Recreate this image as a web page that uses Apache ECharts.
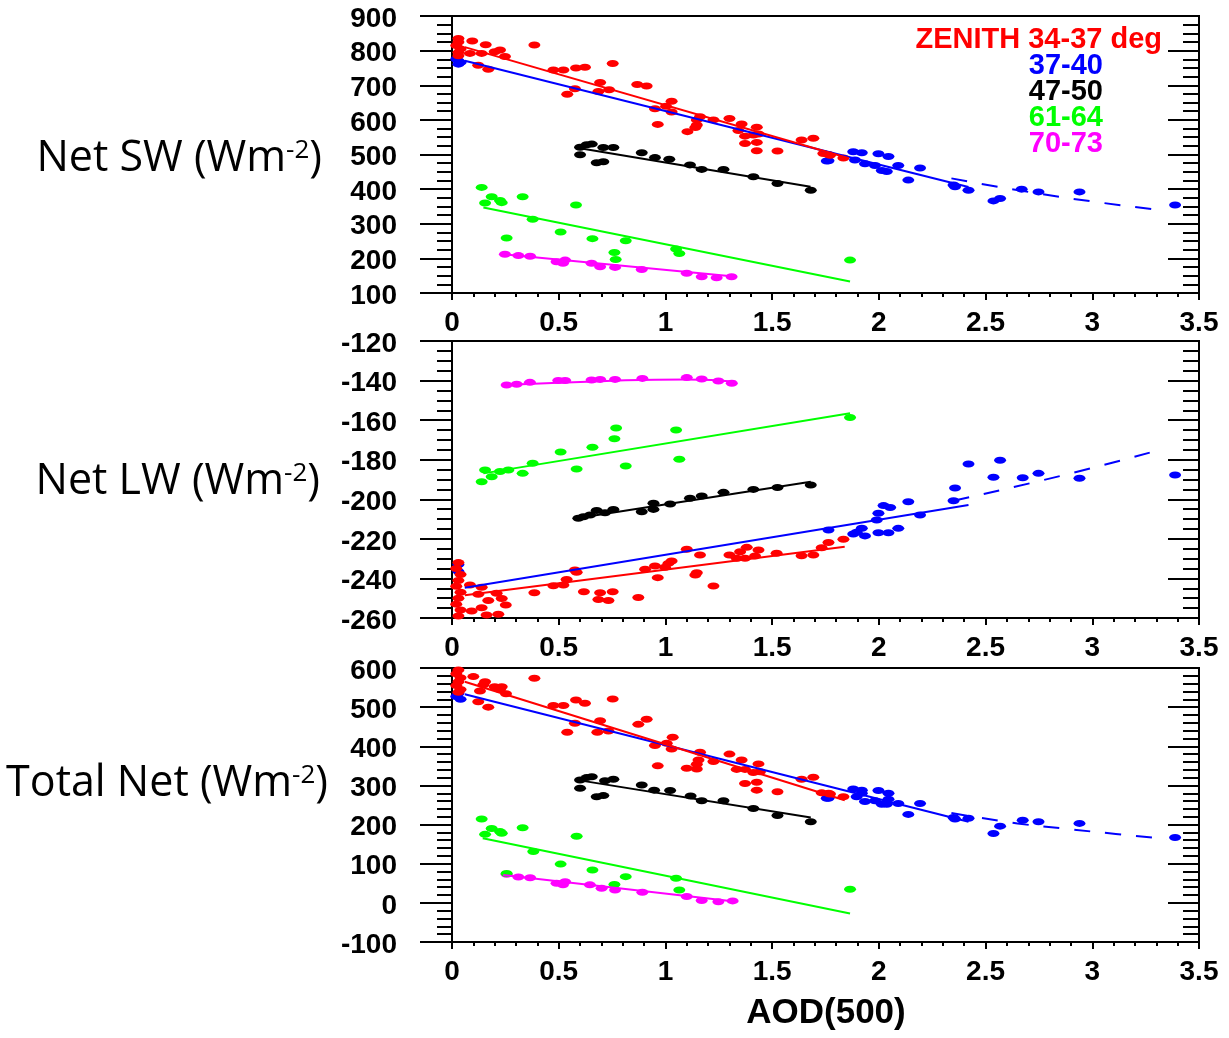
<!DOCTYPE html>
<html>
<head>
<meta charset="utf-8">
<script src="https://cdn.jsdelivr.net/npm/echarts@6/dist/echarts.min.js"></script>
<style>
html,body{margin:0;padding:0;background:#fff;}
#chart{width:1229px;height:1038px;}
</style>
</head>
<body>
<div id="chart"></div>
<script>
// ---------- axis ranges [min, max, interval] ----------
var xRange = [0, 3.5, 0.5];
var swRange = [100, 900, 100];
var lwRange = [-260, -120, 20];
var totRange = [-100, 600, 100];

// ---------- legend / labels ----------
var zenithLabels = ['ZENITH 34-37 deg', '37-40', '47-50', '61-64', '70-73'];
var panelTitles = ['Net SW (Wm{s|-2})', 'Net LW (Wm{s|-2})', 'Total Net (Wm{s|-2})'];
var xTitle = 'AOD(500)';

// ---------- Panel 1: Net SW ----------
var swRed = [[0.03,835],[0.03,825],[0.02,815],[0.04,805],[0.03,795],[0.03,785],
[0.095,828],[0.158,817],[0.386,816],[0.139,792],[0.084,792],[0.2,797],[0.225,802],[0.248,783],
[0.123,758],[0.17,746],[0.475,744],[0.522,744],[0.581,750],[0.623,752],[0.753,763],
[0.694,708],[0.576,690],[0.54,674],[0.686,682],[0.736,687],[0.868,702],[0.912,698],
[1.029,654],[1.003,639],[0.951,632],[1.029,623],[0.964,587],
[1.162,609],[1.147,600],[1.147,585],[1.14,578],[1.103,566],[1.225,600],[1.3,604],
[1.357,588],[1.342,569],[1.373,553],[1.412,556],[1.436,559],[1.428,579],[1.373,532],[1.428,535],
[1.428,511],[1.525,510],[1.638,542],[1.693,547],[1.74,503],[1.764,500],[1.771,498],[1.834,490]];
var swBlue = [[0.02,776],[0.03,771],[0.04,766],[0.03,761],
[1.756,481],[1.764,482],[1.88,508],[1.92,505],[1.888,484],[1.935,473],[1.998,502],[2.045,494],
[1.982,468],[2.014,454],[2.037,451],[2.091,468],[2.193,461],[2.138,426],[2.35,412],[2.357,407],
[2.42,397],[2.537,366],[2.568,373],[2.669,400],[2.748,392],[2.94,392],[3.388,354]];
var swBlack = [[0.6,521],[0.631,528],[0.655,530],[0.6,499],[0.678,476],[0.709,479],[0.709,520],[0.756,520],
[0.889,505],[0.951,491],[1.018,486],[1.115,470],[1.17,457],[1.272,457],[1.412,436],[1.525,416],[1.681,397]];
var swGreen = [[0.139,405],[0.186,378],[0.155,360],[0.225,367],[0.233,361],[0.331,378],[0.581,354],[0.378,313],
[0.509,276],[0.256,259],[0.658,257],[0.814,251],[0.761,217],[0.767,197],[1.05,227],[1.065,214],[1.865,195]];
var swMagenta = [[0.248,212],[0.311,208],[0.366,206],[0.49,190],[0.53,195],[0.52,186],[0.654,186],[0.694,176],
[0.764,174],[0.889,168],[1.1,157],[1.17,147],[1.24,144],[1.31,147]];
var swRedFit = [[0.06,810],[1.86,489]];
var swBlueFit = [[0.06,771],[2.42,406]];
var swBlueDash = [[2.34,431],[2.72,390],[3.04,361],[3.34,338]];
var swBlackFit = [[0.6,518],[1.68,407]];
var swGreenFit = [[0.147,347],[1.865,133]];
var swMagentaFit = [[0.24,212],[1.334,147]];

// ---------- Panel 2: Net LW ----------
var lwRed = [[0.03,-232],[0.02,-235],[0.04,-238],[0.03,-241],[0.02,-244],[0.04,-247],[0.03,-250],[0.02,-253],[0.04,-256],[0.03,-259],
[0.084,-243.3],[0.139,-244.5],[0.123,-248],[0.17,-251.2],[0.209,-247.5],[0.233,-250.1],[0.252,-253.4],[0.092,-256.5],[0.139,-254.8],[0.162,-258.5],[0.217,-258.1],
[0.386,-247.2],[0.475,-243.7],[0.522,-243.3],[0.537,-240.5],[0.576,-235.7],[0.584,-236.9],[0.618,-246.7],[0.694,-247.2],[0.753,-246.7],[0.686,-250.6],[0.733,-251.2],[0.873,-249.6],
[0.905,-235.4],[0.951,-233.7],[1.014,-232.4],[1.029,-231.2],[0.998,-234.4],[0.964,-239.6],[1.1,-225.3],[1.162,-228.2],[1.147,-237.1],[1.14,-238.3],[1.225,-243.8],
[1.3,-228.2],[1.35,-226.5],[1.381,-224.3],[1.436,-225.6],[1.334,-229.8],[1.373,-229.8],[1.42,-228.7],[1.521,-227.3],[1.638,-228.5],[1.693,-228.2],[1.732,-224.5],[1.764,-221.8],[1.834,-220.2]];
var lwBlue = [[0.03,-233],[0.03,-236.5],[1.764,-215.5],[1.88,-217.5],[1.92,-214.6],[1.935,-218.5],[1.896,-216.7],[1.99,-210.5],[1.998,-207.1],
[2.022,-203.2],[2.053,-204.2],[1.998,-216.9],[2.045,-216.9],[2.091,-214.7],[2.138,-201.2],[2.193,-207.9],[2.35,-200.7],[2.357,-194.3],
[2.42,-182.2],[2.537,-188.9],[2.568,-180.3],[2.674,-189.1],[2.748,-186.9],[2.94,-189.4],[3.388,-187.7]];
var lwBlack = [[0.592,-209.6],[0.616,-208.8],[0.647,-207.9],[0.678,-205.7],[0.717,-206.8],[0.756,-205.1],[0.889,-206.3],[0.944,-205.1],
[0.944,-202],[1.022,-202.4],[1.115,-199.5],[1.17,-198.3],[1.272,-196.5],[1.412,-195],[1.525,-194],[1.681,-192.8]];
var lwGreen = [[0.769,-164],[0.761,-169.4],[1.05,-165],[1.065,-179.8],[0.509,-176.1],[0.658,-173.7],[0.584,-184.7],[0.814,-183.2],
[0.378,-181.8],[0.331,-186.9],[0.155,-185.2],[0.225,-186],[0.264,-185.2],[0.186,-188.6],[0.139,-191.1],[1.865,-158.7]];
var lwMagenta = [[0.256,-142.2],[0.303,-141.9],[0.365,-140.9],[0.498,-140],[0.53,-140],[0.654,-139.7],[0.694,-139.4],[0.764,-139.4],
[0.892,-138.9],[1.1,-138.5],[1.17,-139.2],[1.248,-140.2],[1.311,-141.4]];
var lwRedFit = [[0.06,-248.5],[1.84,-224]];
var lwBlueFit = [[0.06,-244.7],[2.42,-202.9]];
var lwBlueDash = [[2.35,-200.7],[2.87,-187.7],[3.33,-174.6]];
var lwBlackFit = [[0.584,-209.6],[1.681,-191.1]];
var lwGreenFit = [[0.147,-186.9],[1.865,-156.5]];
var lwMagentaFit = [[0.24,-142.3],[0.7,-140.3],[1.1,-139.4],[1.33,-140.6]];

// ---------- Panel 3: Total Net ----------
var totRed = [[0.03,595],[0.02,585],[0.04,575],[0.03,565],[0.02,555],[0.04,545],[0.03,538],
[0.1,578],[0.155,565],[0.147,557],[0.131,541],[0.2,552],[0.233,552],[0.225,545],[0.253,534],[0.386,574],[0.123,514],[0.17,500],
[0.475,504],[0.522,504],[0.581,518],[0.623,510],[0.753,521],[0.694,465],[0.576,459],[0.54,436],[0.681,436],[0.733,439],[0.873,456],[0.912,469],
[1.034,423],[1.006,408],[0.951,402],[1.029,393],[0.964,350],[1.162,385],[1.155,365],[1.147,354],[1.1,344],[1.147,342],[1.225,361],[1.3,380],
[1.357,365],[1.334,341],[1.373,341],[1.412,333],[1.443,335],[1.436,355],[1.373,305],[1.428,308],[1.428,288],[1.525,284],[1.638,316],[1.693,321],
[1.732,281],[1.764,280],[1.771,278],[1.834,271]];
var totBlue = [[0.03,535],[0.02,527],[0.04,520],[1.756,267],[1.764,267],[1.88,291],[1.92,288],[1.896,271],[1.92,280],[1.935,259],[1.998,287],
[2.045,280],[1.982,261],[2.014,252],[2.037,252],[2.045,265],[2.091,254],[2.193,254],[2.138,226],[2.35,218],[2.357,214],[2.42,216],
[2.537,177],[2.568,196],[2.674,211],[2.748,207],[2.94,203],[3.388,167]];
var totBlack = [[0.6,314],[0.631,320],[0.655,322],[0.6,293],[0.678,271],[0.709,274],[0.717,312],[0.756,316],[0.889,301],[0.947,288],
[1.022,287],[1.118,273],[1.17,261],[1.272,261],[1.412,241],[1.525,223],[1.681,207]];
var totGreen = [[0.139,214],[0.186,190],[0.155,175],[0.225,182],[0.233,178],[0.331,192],[0.584,170],[0.381,131],[0.509,99],[0.256,75],
[0.658,84],[0.814,67],[0.761,47],[1.05,63],[1.065,33],[1.865,35]];
var totMagenta = [[0.256,73],[0.311,66],[0.366,64],[0.49,50],[0.53,54],[0.52,46],[0.646,46],[0.701,37],[0.764,33],[0.892,27],
[1.1,16],[1.17,6],[1.248,3],[1.315,5]];
var totRedFit = [[0.06,565],[1.84,262]];
var totBlueFit = [[0.06,533],[2.42,207]];
var totBlueDash = [[2.34,229.5],[2.65,203],[2.88,189],[3.11,176],[3.35,163]];
var totBlackFit = [[0.62,311],[1.681,218]];
var totGreenFit = [[0.144,165],[1.865,-27]];
var totMagentaFit = [[0.24,71],[1.334,3]];

// ---------- build ----------
var COLORS = {red:'#ff0000', blue:'#0000ff', black:'#000000', green:'#00ff00', magenta:'#ff00ff'};
var LABEL_FONT = 'Liberation Sans, Arial, sans-serif';
var grids = [
  {left:452, right:30, top:16, height:277},
  {left:452, right:30, top:341, height:277},
  {left:452, right:30, top:668, height:274}
];
var yRanges = [swRange, lwRange, totRange];
var yMinorSplit = [4, 4, 5];

var gridOpts = grids.map(function(g){
  return {left:g.left, right:g.right, top:g.top, height:g.height, show:true, borderColor:'#000', borderWidth:2, backgroundColor:'transparent'};
});
var xAxes = [0,1,2].map(function(i){
  return {type:'value', gridIndex:i, min:xRange[0], max:xRange[1], interval:xRange[2], position:'bottom',
    axisLine:{show:true, onZero:false, lineStyle:{color:'#000', width:2}},
    axisTick:{show:true, inside:false, length:7, lineStyle:{color:'#000', width:2}},
    minorTick:{show:true, splitNumber:5, length:4, lineStyle:{color:'#000', width:2}},
    axisLabel:{show:true, margin:16, fontSize:28, fontWeight:'bold', fontFamily:LABEL_FONT, color:'#000', showMinLabel:true, showMaxLabel:true},
    splitLine:{show:false}};
});
var yAxes = [];
[0,1,2].forEach(function(i){
  var r = yRanges[i];
  yAxes.push({type:'value', gridIndex:i, min:r[0], max:r[1], interval:r[2], position:'left',
    axisLine:{show:true, onZero:false, lineStyle:{color:'#000', width:2}},
    axisTick:{show:true, inside:false, length:32, lineStyle:{color:'#000', width:2}},
    minorTick:{show:true, splitNumber:yMinorSplit[i], length:15, lineStyle:{color:'#000', width:2}},
    axisLabel:{show:true, margin:55, fontSize:28, fontWeight:'bold', fontFamily:LABEL_FONT, color:'#000', showMinLabel:true, showMaxLabel:true,
      verticalAlign:'top', lineHeight:6},
    splitLine:{show:false}});
  yAxes.push({type:'value', gridIndex:i, min:r[0], max:r[1], interval:r[2], position:'right',
    axisLine:{show:true, onZero:false, lineStyle:{color:'#000', width:2}},
    axisTick:{show:true, inside:true, length:31, lineStyle:{color:'#000', width:2}},
    minorTick:{show:true, splitNumber:yMinorSplit[i], length:16, lineStyle:{color:'#000', width:2}},
    axisLabel:{show:false}, splitLine:{show:false}});
});

var panels = [
  {pts:{magenta:swMagenta, green:swGreen, black:swBlack, blue:swBlue, red:swRed},
   fits:{magenta:swMagentaFit, green:swGreenFit, black:swBlackFit, blue:swBlueFit, red:swRedFit}, dash:swBlueDash},
  {pts:{magenta:lwMagenta, green:lwGreen, black:lwBlack, blue:lwBlue, red:lwRed},
   fits:{magenta:lwMagentaFit, green:lwGreenFit, black:lwBlackFit, blue:lwBlueFit, red:lwRedFit}, dash:lwBlueDash},
  {pts:{magenta:totMagenta, green:totGreen, black:totBlack, blue:totBlue, red:totRed},
   fits:{magenta:totMagentaFit, green:totGreenFit, black:totBlackFit, blue:totBlueFit, red:totRedFit}, dash:totBlueDash}
];
var order = ['magenta','green','black','blue','red'];
var series = [];
panels.forEach(function(p, i){
  order.forEach(function(c){
    series.push({type:'scatter', xAxisIndex:i, yAxisIndex:2*i, data:p.pts[c], symbol:'circle', symbolSize:[12,7],
      itemStyle:{color:COLORS[c], opacity:1}, z:2, silent:true});
  });
  order.forEach(function(c){
    series.push({type:'line', xAxisIndex:i, yAxisIndex:2*i, data:p.fits[c], symbol:'none', smooth:(c==='magenta'&&i===1),
      lineStyle:{color:COLORS[c], width:2}, z:3, silent:true});
  });
  series.push({type:'line', xAxisIndex:i, yAxisIndex:2*i, data:p.dash, symbol:'none', smooth:true,
    lineStyle:{color:COLORS.blue, width:2, type:[16,15]}, z:3, silent:true});
});

var TITLE_FONT = 'Open Sans, Noto Sans, sans-serif';
var titlePos = [[322,159],[320,482],[328,784]];
var graphics = panelTitles.map(function(t, i){
  return {type:'text', x:titlePos[i][0], y:titlePos[i][1], silent:true,
    style:{text:t, fontSize:43, fontFamily:TITLE_FONT, fill:'#000', align:'right', verticalAlign:'middle', lineHeight:43,
      rich:{s:{fontSize:26, fontFamily:TITLE_FONT, fill:'#000', verticalAlign:'top', lineHeight:26}}}};
});
graphics.push({type:'text', x:826, y:1013, silent:true,
  style:{text:xTitle, fontSize:35, fontWeight:'bold', fontFamily:LABEL_FONT, fill:'#000', align:'center', verticalAlign:'middle'}});
var legColors = [COLORS.red, COLORS.blue, COLORS.black, COLORS.green, COLORS.magenta];
var legPos = [[1162,40],[1103,66],[1103,92],[1103,118],[1103,144]];
zenithLabels.forEach(function(t, i){
  graphics.push({type:'text', x:legPos[i][0], y:legPos[i][1], silent:true,
    style:{text:t, fontSize:29, fontWeight:'bold', fontFamily:LABEL_FONT, fill:legColors[i], align:'right', verticalAlign:'middle'}});
});

var chart = echarts.init(document.getElementById('chart'), null, {renderer:'canvas'});
chart.setOption({
  backgroundColor:'#fff',
  animation:false,
  grid:gridOpts,
  xAxis:xAxes,
  yAxis:yAxes,
  series:series,
  graphic:graphics
});
</script>
</body>
</html>
